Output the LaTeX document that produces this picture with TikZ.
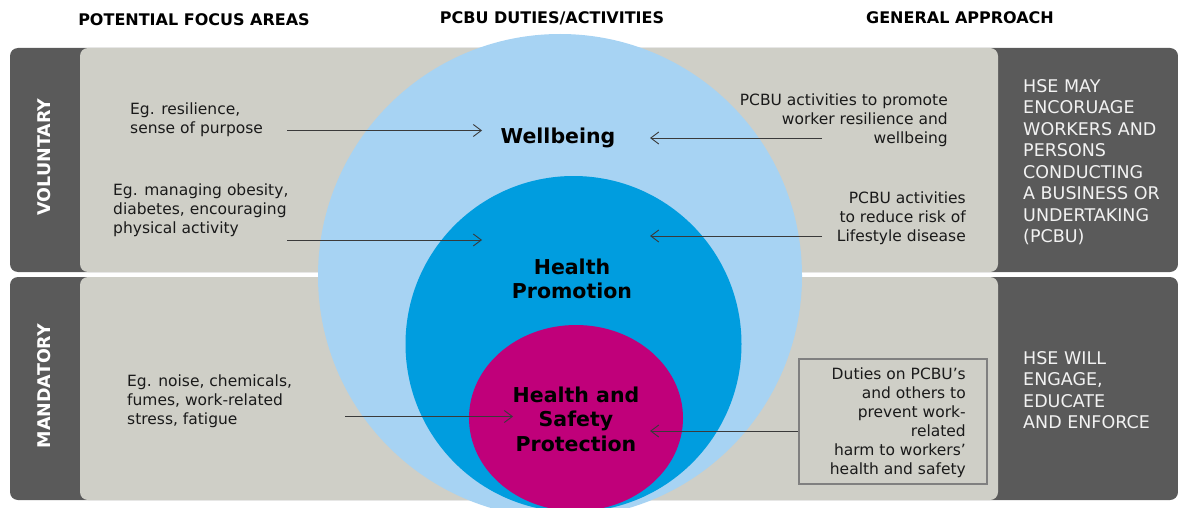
\documentclass[tikz,border=0pt]{standalone}
\usepackage{fontspec}
\setmainfont{DejaVu Sans}
\usetikzlibrary{arrows.meta}
\definecolor{darkpanel}{HTML}{5A5A5A}
\definecolor{lightpanel}{HTML}{CFCFC7}
\definecolor{lightblue}{HTML}{A7D3F3}
\definecolor{midblue}{HTML}{009DDF}
\definecolor{magentac}{HTML}{C0007A}
\definecolor{boxline}{HTML}{808080}
\definecolor{arrowc}{HTML}{3A3A3A}
\definecolor{bodytext}{HTML}{1A1A1A}
\tikzset{
  header/.style={font=\bfseries\fontsize{16}{19}\selectfont, text=black, inner sep=0pt},
  sidelabel/.style={font=\bfseries\fontsize{17.5}{20}\selectfont, text=white, rotate=90, inner sep=0pt},
  bodyl/.style={font=\fontsize{15.5}{19}\selectfont, text=bodytext, align=left, inner sep=0pt, anchor=north west},
  bodyr/.style={font=\fontsize{15.5}{19}\selectfont, text=bodytext, align=right, inner sep=0pt, anchor=north east},
  approach/.style={font=\fontsize{17.5}{21.5}\selectfont, text=white!95!black, align=left, inner sep=0pt, anchor=north west},
  circlabel/.style={font=\bfseries\fontsize{20.5}{24.5}\selectfont, text=black, align=center, inner sep=0pt},
  arr/.style={draw=arrowc, line width=0.9pt, -{Straight Barb[length=8pt,width=12pt]}},
  panel/.style={rounded corners=8pt}
}
\begin{document}
\begin{tikzpicture}[x=1pt,y=-1pt]
\useasboundingbox (0,0) rectangle (1178,508);
\clip (0,0) rectangle (1178,508);
% panels
\fill[darkpanel, panel] (10,48) rectangle (1178,272);
\fill[darkpanel, panel] (10,277) rectangle (1178,500);
\fill[lightpanel, panel] (80,48) rectangle (998,272);
\fill[lightpanel, panel] (80,277) rectangle (998,500);
% circles
\fill[lightblue] (560,276) circle[radius=242pt];
\fill[midblue] (573.5,344) circle[radius=168pt];
\fill[magentac] (576,418) ellipse[x radius=107pt, y radius=93pt];
% headers
\node[header] (h1) at (194,20) {POTENTIAL FOCUS AREAS};
\node[header] (h2) at (552,18) {PCBU DUTIES/ACTIVITIES};
\node[header] (h3) at (960,18) {GENERAL APPROACH};
% side labels
\node[sidelabel] (vol) at (44,157) {VOLUNTARY};
\node[sidelabel] (man) at (44,386) {MANDATORY};
% circle labels
\node[circlabel] (wb) at (558,138) {Wellbeing};
\node[circlabel] (hp) at (572,279) {Health\\Promotion};
\node[circlabel] (hs) at (576,419) {Health and\\Safety\\Protection};
% left texts
\node[bodyl] (l1) at (130,103) {Eg. resilience,\\sense of purpose};
\node[bodyl] (l2) at (113,184) {Eg. managing obesity,\\diabetes, encouraging\\physical activity};
\node[bodyl] (l3) at (127,375) {Eg. noise, chemicals,\\fumes, work-related\\stress, fatigue};
% right texts
\node[bodyr] (r1) at (948,94) {PCBU activities to promote\\worker resilience and\\wellbeing};
\node[bodyr] (r2) at (966,192) {PCBU activities\\to reduce risk of\\Lifestyle disease};
\node[draw=boxline, line width=2pt, minimum width=188pt, minimum height=125pt, anchor=north west, inner sep=0pt] (box) at (798,358) {};
\node[bodyr] (r3) at (966,368) {Duties on PCBU’s\\and others to\\prevent work-\\related\\harm to workers’\\health and safety};
% approach texts
\node[approach] (g1) at (1023,79) {HSE MAY\\ENCORUAGE\\WORKERS AND\\PERSONS\\CONDUCTING\\A BUSINESS OR\\UNDERTAKING\\(PCBU)};
\node[approach] (g2) at (1023,351) {HSE WILL\\ENGAGE,\\EDUCATE\\AND ENFORCE};
% arrow endpoints
\coordinate (a1s) at (287,130.5);
\coordinate (a1e) at (482,130.5);
\coordinate (a2s) at (287,240);
\coordinate (a2e) at (482,240);
\coordinate (a3s) at (345,416.5);
\coordinate (a3e) at (513,416.5);
\coordinate (a4s) at (822,138);
\coordinate (a4e) at (650,138);
\coordinate (a5s) at (822,236);
\coordinate (a5e) at (650,236);
\coordinate (a6e) at (650,431);
\draw[arr] (a1s) -- (a1e);
\draw[arr] (a2s) -- (a2e);
\draw[arr] (a3s) -- (a3e);
\draw[arr] (a4s) -- (a4e);
\draw[arr] (a5s) -- (a5e);
\draw[arr] (a6e -| box.west) -- (a6e);
\end{tikzpicture}
\end{document}
